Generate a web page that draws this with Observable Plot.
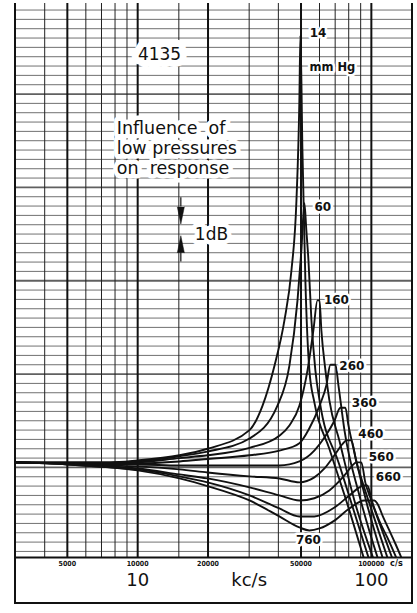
<!DOCTYPE html>
<html><head><meta charset="utf-8">
<script src="https://cdn.jsdelivr.net/npm/d3@7"></script>
<script src="https://cdn.jsdelivr.net/npm/@observablehq/plot@0.6"></script>
<style>body{margin:0;background:#fff}</style>
</head><body><div id="chart"></div>
<script>
// pressures (mm Hg) and response curves: [frequency kc/s, level dB]
const pressures = [14, 60, 160, 260, 360, 460, 560, 660, 760];
const c14 = [[3,0.54],[5,0.54],[7.6,0.54],[10,0.75],[15.1,1.3],[19.9,2.0],[30.1,4.0],[34.2,6.6],[38.5,10.9],[42.5,15.8],[45.5,21.1],[47.8,28.6],[49.2,39.3],[49.7,46.3],[50.7,34.0],[52.2,20.0],[54.3,10.4],[57.0,7.0],[66.1,2.0],[80.5,-4.6],[93.6,-10]];
const c60 = [[3,0.54],[5,0.54],[7.6,0.54],[10,0.64],[15.1,1.2],[19.9,1.7],[30.1,3.1],[39.6,6.6],[44.6,10.9],[48.3,17.9],[50.2,23.3],[51.7,28.3],[52.7,25.4],[53.8,22.2],[55.4,15.8],[57.6,10.4],[60,7.2],[72.9,0.32],[98.2,-10]];
const c160 = [[3,0.54],[5,0.43],[7.6,0.43],[10,0.54],[15.1,1.0],[19.9,1.3],[30.1,2.1],[40.4,3.4],[44.6,4.5],[49.2,6.6],[53.3,10.4],[56.5,14.7],[58.8,17.9],[60,17.9],[61.1,14.7],[63.6,10.4],[66.1,7.2],[72.9,2.9],[84.6,-3.54],[102.8,-10]];
const c260 = [[3,0.54],[5,0.43],[7.6,0.43],[10,0.43],[15.1,0.64],[19.9,0.9],[30.1,1.3],[40.4,1.8],[49.2,2.6],[54.3,4.2],[60,6.6],[64.2,8.8],[66.8,11.0],[70.2,11.0],[72.3,8.8],[76.7,4.0],[88.9,-3.0],[107.4,-10]];
const c360 = [[3,0.54],[5,0.43],[7.6,0.32],[10,0.32],[15.1,0.21],[19.9,0.21],[30.1,0.21],[40.4,0.21],[49.2,0.64],[57,1.8],[63,3.2],[69.5,5.0],[73.7,6.4],[77.4,6.4],[79.8,4.5],[84.6,1.6],[96.1,-4.07],[112.8,-10]];
const c460 = [[3,0.54],[5,0.43],[7.6,0.21],[10,0.11],[15.1,-0.21],[19.9,-0.54],[30.1,-0.96],[40.4,-1.18],[49.2,-1.6],[57,-1.07],[63,-0.11],[69.5,1.3],[75.2,2.5],[78.2,2.9],[82.1,2.9],[86.3,0.54],[90.6,-1.18],[102,-5.14],[118.4,-10]];
const c560 = [[3,0.54],[5,0.43],[7.6,0.11],[10,-0.11],[15.1,-0.75],[19.9,-1.18],[30.1,-2.14],[40.4,-3.0],[49.2,-3.54],[57,-3.3],[66.1,-2.47],[76.7,-0.86],[83,0.21],[86.3,0.54],[90.6,0.54],[94.2,-1.6],[100,-3.54],[110,-6.43],[124,-10]];
const c660 = [[3,0.54],[5,0.32],[7.6,0],[10,-0.21],[15.1,-0.96],[19.9,-1.6],[30.1,-3.0],[40.4,-4.4],[49.2,-5.25],[57,-5.25],[69.5,-4.3],[80.5,-3.0],[88.9,-2.14],[92.4,-1.93],[96.1,-1.93],[101,-3.75],[108,-5.7],[117,-7.5],[129.5,-10]];
const c760 = [[3,0.54],[5,0.32],[7.6,0],[10,-0.32],[15.1,-1.18],[19.9,-2.0],[30.1,-3.54],[40.4,-5.25],[49.2,-6.43],[54.3,-6.75],[60,-6.54],[69.5,-5.7],[80.5,-4.4],[93.3,-3.54],[103,-3.54],[106,-3.86],[112.5,-5.36],[119.4,-6.75],[126.6,-8.15],[136.2,-10]];
const curves = [c14, c60, c160, c260, c360, c460, c560, c660, c760];

// grid and tick values
const xDomain = [3, 150];
const yDomain = [-9.65, 49.7];
const freqMinor = [4, 6, 7, 8, 9, 15, 30, 40, 60, 70, 80, 90];
const freqMajor = [5, 10, 20, 50, 100];
const dbLines = d3.range(-9, 50);
const smallTicks = [5, 10, 20, 50, 100];
const smallTickLabels = ["5000", "10000", "20000", "50000", "100000"];
const bigTicks = [10, 100];
const bigTickLabels = ["10", "100"];

// annotations
const curveLabels = [
  {text: "14", f: 59.1, db: 46.5},
  {text: "60", f: 62.0, db: 27.9},
  {text: "160", f: 70.9, db: 17.9},
  {text: "260", f: 82.5, db: 10.9},
  {text: "360", f: 93.3, db: 6.9},
  {text: "460", f: 99.5, db: 3.6},
  {text: "560", f: 110.3, db: 1.07},
  {text: "660", f: 118.2, db: -1.07},
  {text: "760", f: 53.8, db: -7.8}
];
const titleLines = ["Influence\u00a0\u00a0of", "low pressures", "on\u00a0\u00a0response"];
const titleDb = [36.3, 34.2, 32.0];

const table = curves.flatMap((arr, i) => arr.map(([f, db]) => ({p: pressures[i], f, db})));

function outerBox(index, scales, values, dims) {
  const {width, height, marginLeft, marginRight, marginTop} = dims;
  const l = marginLeft, r = width - marginRight, t = marginTop, b = height - 10;
  return d3.create("svg:path")
    .attr("d", `M${l},${t}V${b}H${r}V${t}`)
    .attr("fill", "none").attr("stroke", "#111").attr("stroke-width", 2).node();
}

const font = "'DejaVu Sans', 'Noto Sans', sans-serif";
const narrow = "'DejaVu Sans Condensed', 'Liberation Sans Narrow', 'DejaVu Sans', sans-serif";
const chart = Plot.plot({
  width: 417, height: 613,
  marginTop: 3, marginRight: 5, marginBottom: 56, marginLeft: 15,
  style: {background: "#fff", fontFamily: font, color: "#111"},
  x: {type: "log", domain: xDomain, axis: null},
  y: {domain: yDomain, axis: null},
  marks: [
    Plot.ruleY(dbLines, {stroke: "#444", strokeWidth: d => d % 10 === 0 ? 1.8 : 0.9, strokeOpacity: 0.85}),
    Plot.ruleX(freqMinor, {stroke: "#222", strokeWidth: 1}),
    Plot.ruleX(freqMajor, {stroke: "#111", strokeWidth: 2}),
    Plot.ruleY([yDomain[0]], {stroke: "#111", strokeWidth: 2}),
    outerBox,
    Plot.line(table, {x: "f", y: "db", z: "p", curve: "monotone-x", stroke: "#111", strokeWidth: 1.9, clip: true}),
    // 1 dB marker
    Plot.ruleX([15.3], {y1: 28.9, y2: 27.9, stroke: "#111", strokeWidth: 1.2}),
    Plot.ruleX([15.3], {y1: 23.0, y2: 22.0, stroke: "#111", strokeWidth: 1.2}),
    Plot.vector([{f: 15.3, db: 27.9, rot: 180}, {f: 15.3, db: 23.0, rot: 0}], {x: "f", y: "db", rotate: "rot", length: 17, r: 3.5, shape: "spike", anchor: "start", fill: "#111", stroke: "#111", strokeWidth: 0.5}),
    Plot.text(["1dB"], {x: 20.7, y: 25.0, text: d => d, fontSize: 17, fill: "#111", stroke: "white", strokeWidth: 9}),
    Plot.text(["4135"], {x: 12.4, y: 44.2, text: d => d, fontSize: 17, fill: "#111", stroke: "white", strokeWidth: 14}),
    Plot.text(titleLines, {x: 8.14, y: (d, i) => titleDb[i], text: d => d, textAnchor: "start", fontSize: 17.5, fill: "#111", stroke: "white", strokeWidth: 9}),
    Plot.text(curveLabels, {x: "f", y: "db", text: "text", fontSize: 12, fontWeight: "bold", fill: "#111", stroke: "white", strokeWidth: 5}),
    Plot.text(["mm Hg"], {x: 68.1, y: 42.9, text: d => d, fontSize: 11.5, fontWeight: "bold", fill: "#111", stroke: "white", strokeWidth: 5}),
    // bottom strip labels
    Plot.text(smallTicks, {x: d => d, text: (d, i) => smallTickLabels[i], frameAnchor: "bottom", dy: 8, fontSize: 7, fontWeight: "bold", fontFamily: narrow, fill: "#111"}),
    Plot.text(["c/s"], {x: 128, text: d => d, frameAnchor: "bottom", dy: 8, fontSize: 9, fontWeight: "bold", fontFamily: narrow, fill: "#111"}),
    Plot.text(bigTicks, {x: d => d, text: (d, i) => bigTickLabels[i], frameAnchor: "bottom", dy: 28, fontSize: 18, fill: "#111"}),
    Plot.text(["kc/s"], {x: 30, text: d => d, frameAnchor: "bottom", dy: 28, fontSize: 18, fill: "#111"})
  ]
});
document.getElementById("chart").appendChild(chart);
</script>
</body></html>
